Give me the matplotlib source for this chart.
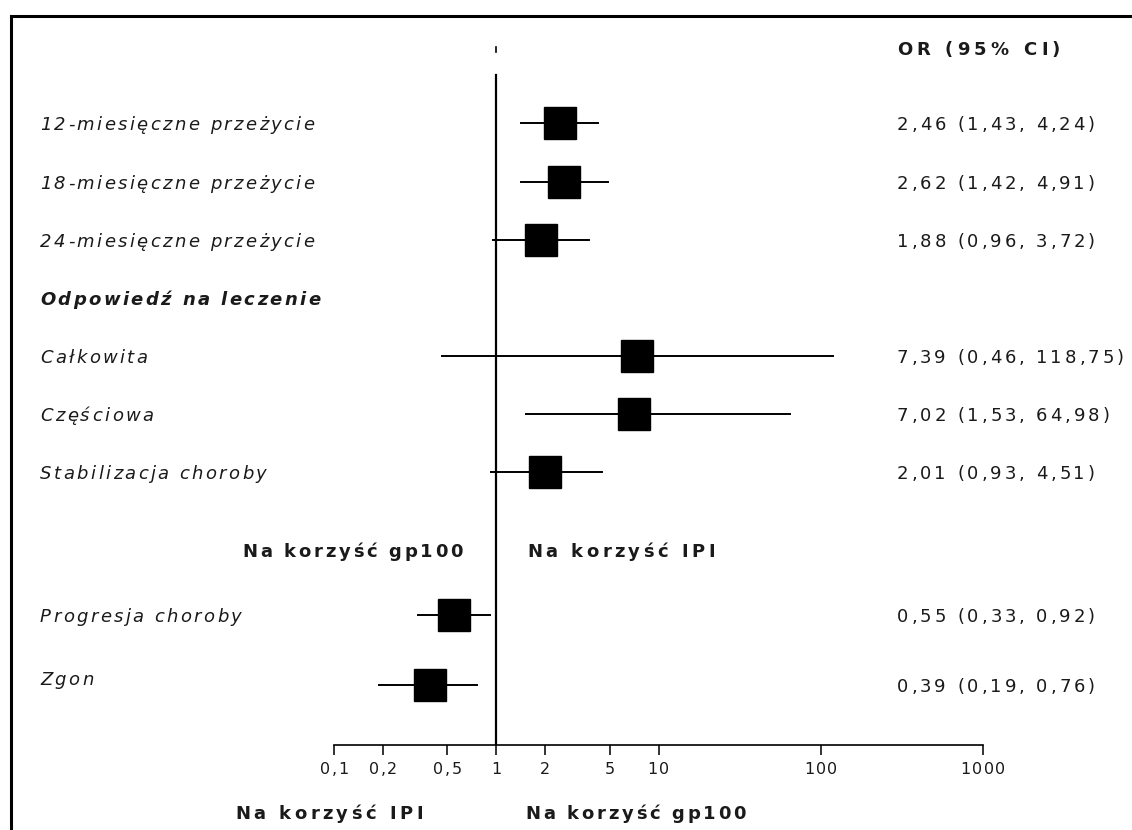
import numpy as np
import matplotlib
matplotlib.use("Agg")
import matplotlib.pyplot as plt
from matplotlib.patches import Rectangle
from matplotlib import font_manager
from matplotlib.font_manager import FontProperties
from matplotlib.ft2font import FT2Font

# ---- data ----
labels = ["12-miesięczne przeżycie", "18-miesięczne przeżycie", "24-miesięczne przeżycie",
          "Całkowita", "Częściowa", "Stabilizacja choroby",
          "Progresja choroby", "Zgon"]
or_vals = [2.46, 2.62, 1.88, 7.39, 7.02, 2.01, 0.55, 0.39]
ci_low = [1.43, 1.42, 0.96, 0.46, 1.53, 0.93, 0.33, 0.19]
ci_high = [4.24, 4.91, 3.72, 118.75, 64.98, 4.51, 0.92, 0.76]
or_text = ["2,46 (1,43, 4,24)", "2,62 (1,42, 4,91)", "1,88 (0,96, 3,72)",
           "7,39 (0,46, 118,75)", "7,02 (1,53, 64,98)", "2,01 (0,93, 4,51)",
           "0,55 (0,33, 0,92)", "0,39 (0,19, 0,76)"]
tick_vals = [0.1, 0.2, 0.5, 1, 2, 5, 10, 100, 1000]
tick_labels = ["0,1", "0,2", "0,5", "1", "2", "5", "10", "100", "1000"]
section_title = "Odpowiedź na leczenie"
header = "OR (95% CI)"
favour_gp100 = "Na korzyść gp100"
favour_ipi = "Na korzyść IPI"

# ---- layout (pixel rows) ----
W, H = 1132, 830
row_y = [123, 182, 240, 356, 414, 472, 615, 685]
label_y = [123, 182, 240, 356, 414, 472, 615, 678]
axis_y = 745
px_decade = (983 - 334) / 4.0
x_left = 10 ** (-1 - 334 / px_decade)
x_right = 10 ** (-1 + (W - 334) / px_decade)

fig = plt.figure(figsize=(W / 100, H / 100), dpi=100)
ax = fig.add_axes([0, (H - axis_y) / H, 1, axis_y / H])
ax.set_xscale("log")
ax.set_xlim(x_left, x_right)
ax.set_ylim(axis_y, 0)
for s in ["left", "right", "top"]:
    ax.spines[s].set_visible(False)
ax.spines["bottom"].set_bounds(0.1, 1000)
ax.spines["bottom"].set_linewidth(1.2)
ax.set_yticks([])
ax.set_xticks(tick_vals)
ax.set_xticklabels([])
ax.xaxis.set_minor_locator(matplotlib.ticker.NullLocator())
ax.tick_params(axis="x", direction="out", length=7, width=1.2, colors="#111111")


def advances(s, fp):
    f = FT2Font(font_manager.findfont(fp))
    f.set_size(fp.get_size_in_points(), 100)
    return [f.load_char(ord(c)).linearHoriAdvance / 65536.0 for c in s]


def spaced(x, yc, s, size=13, style="normal", weight="normal", spacing=2.6,
           width=None, ha="left", color="#1a1a1a"):
    """Draw text in figure pixel coords (y down, yc = vertical centre) with tracking."""
    fp = FontProperties(family="DejaVu Sans", style=style, weight=weight, size=size)
    adv = advances(s, fp)
    nat = sum(adv)
    if width is not None and len(s) > 1:
        spacing = (width - nat) / (len(s) - 1)
    total = nat + spacing * (len(s) - 1)
    if ha == "right":
        x = x - total
    elif ha == "center":
        x = x - total / 2
    cap = 0.729 * size * 100 / 72
    base = yc + cap / 2
    for c, a in zip(s, adv):
        fig.text(x / W, 1 - base / H, c, fontproperties=fp, color=color,
                 ha="left", va="baseline")
        x += a + spacing


# tick labels
for v, lab in zip(tick_vals, tick_labels):
    xp = 334 + (np.log10(v) + 1) * px_decade
    spaced(xp, 768, lab, size=11.5, spacing=1.5, ha="center")

# reference line
ax.plot([1, 1], [75, axis_y], color="black", lw=1.6, zorder=2)
ax.plot([1, 1], [47, 52], color="black", lw=1.2, zorder=2)

for i in range(len(labels)):
    y = row_y[i]
    ax.plot([ci_low[i], ci_high[i]], [y, y], color="black", lw=1.4, zorder=3)
    ax.plot(or_vals[i], y, marker="s", ms=23, color="black", mec="black", zorder=4)
    spaced(40, label_y[i], labels[i], style="italic", spacing=2.4)
    spaced(897, y, or_text[i], spacing=2.9)

spaced(40, 298, section_title, style="italic", weight="bold", spacing=2.4)
spaced(897, 48, header, weight="bold", width=163)
spaced(463, 550, favour_gp100, weight="bold", width=221, ha="right")
spaced(527, 550, favour_ipi, weight="bold", width=188)
spaced(423, 812, favour_ipi, weight="bold", width=188, ha="right")
spaced(525, 812, favour_gp100, weight="bold", width=221)

# border
fig.patches.append(Rectangle((11 / W, -0.05), 1.2, 1 - 16 / H + 0.05,
                             transform=fig.transFigure, fill=False,
                             edgecolor="black", lw=2.2))

fig.savefig("out.png", dpi=100)
